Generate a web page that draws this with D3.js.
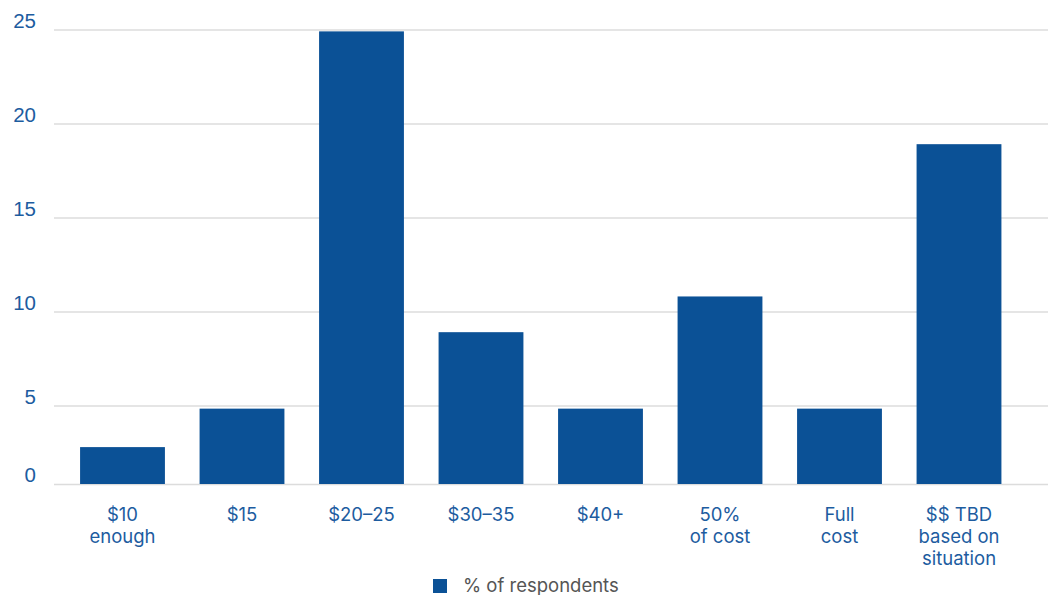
<!DOCTYPE html>
<html lang="en">
<head>
    <meta charset="UTF-8">
    <script src="https://d3js.org/d3.v7.min.js"></script>
    <title>Respondents</title>
    <style>
        body { margin: 0; background: #fff; }
        svg { display: block; font-family: Inter, "Noto Sans", sans-serif; }
    </style>
</head>
<body>
    <div id="graph-div"></div>
    <script>
        // data
        const categories = [["$10", "enough"], ["$15"], ["$20\u201325"], ["$30\u201335"], ["$40+"],
                            ["50%", "of cost"], ["Full", "cost"], ["$$ TBD", "based on", "situation"]];
        const values = [2.35, 4.8, 24.9, 8.9, 4.8, 10.8, 4.8, 18.9];
        const yTicks = [0, 5, 10, 15, 20, 25];
        const seriesName = "% of respondents";

        const w = 1048, h = 595;
        const blue = "#0b5196", labelBlue = "#1d5c9f";

        const svg = d3.select("#graph-div").append("svg")
                      .attr("width", w).attr("height", h);

        const xScale = d3.scaleBand()
                         .domain(d3.range(categories.length))
                         .range([62.75, 1018.75])
                         .paddingInner(0.29)
                         .paddingOuter(0.145);

        // the original axis is a bit squeezed near zero
        const yScale = d3.scaleLinear()
                         .domain([0, 5, 25])
                         .range([484, 405.5, 29.5]);

        //grid + y labels
        const yAxis = d3.axisLeft(yScale).tickValues(yTicks).tickSize(-(w - 54)).tickFormat(d3.format("d"));
        const gy = svg.append("g")
                      .attr("transform", "translate(54, 0)")
                      .call(yAxis);
        gy.select(".domain").remove();
        gy.selectAll(".tick line").attr("stroke", "#dcdcdc").attr("stroke-width", 1.5);
        gy.selectAll(".tick text")
          .attr("x", -18).attr("dy", "-0.1em")
          .attr("fill", labelBlue)
          .style("font-size", "20.5px");

        //bars
        svg.selectAll("rect.bar")
           .data(values)
           .enter()
           .append("rect")
           .attr("class", "bar")
           .attr("fill", blue)
           .attr("x", (d, i) => xScale(i))
           .attr("y", d => yScale(d))
           .attr("width", xScale.bandwidth())
           .attr("height", d => yScale(0) - yScale(d));

        //x labels
        const xl = svg.selectAll("text.xlab")
                      .data(categories)
                      .enter()
                      .append("text")
                      .attr("class", "xlab")
                      .attr("text-anchor", "middle")
                      .attr("fill", labelBlue)
                      .style("font-size", "18.5px");
        xl.selectAll("tspan")
          .data((d, i) => d.map(t => ({t: t, i: i})))
          .enter()
          .append("tspan")
          .attr("x", d => xScale(d.i) + xScale.bandwidth() / 2)
          .attr("y", (d, j) => 521 + j * 22)
          .text(d => d.t);

        //legend
        svg.append("rect")
           .attr("x", 433).attr("y", 579)
           .attr("width", 14).attr("height", 14)
           .attr("fill", blue);
        svg.append("text")
           .attr("x", 463).attr("y", 592)
           .attr("fill", "#555")
           .style("font-size", "18.5px")
           .text(seriesName);
    </script>
</body>
</html>
